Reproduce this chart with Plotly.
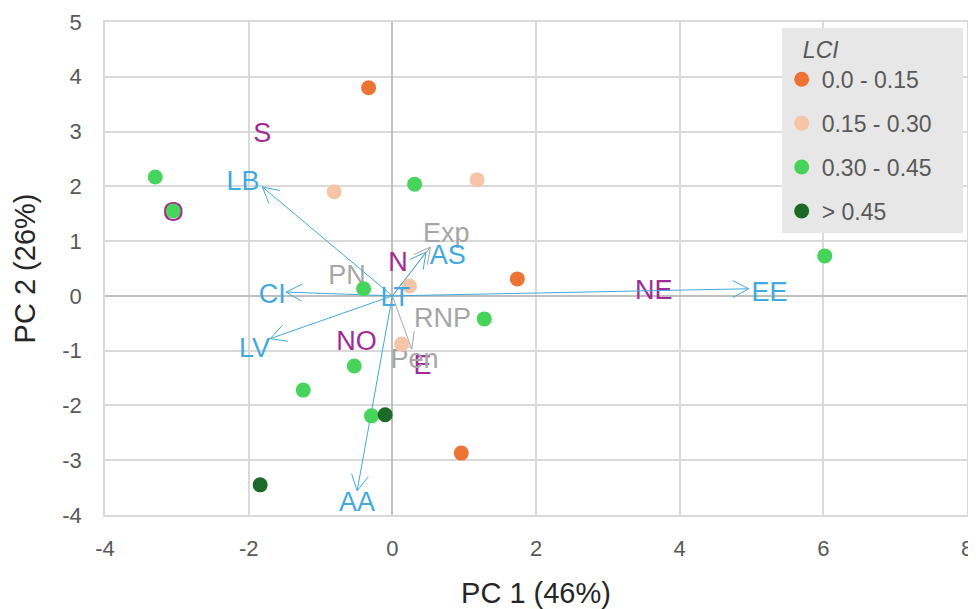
import math
import plotly.graph_objects as go

# ---- data ----
groups = ["0.0 - 0.15", "0.15 - 0.30", "0.30 - 0.45", "> 0.45"]
group_colors = ["#ed7332", "#f6c4a6", "#47d45a", "#1b6a27"]
pts_x = [
    [-0.33, 1.74, 0.96],
    [-0.81, 1.18, 0.24, 0.13],
    [-3.30, -3.05, 0.31, -0.40, 1.28, -0.53, -1.24, -0.29, 6.02],
    [-0.10, -1.84],
]
pts_y = [
    [3.80, 0.31, -2.87],
    [1.90, 2.12, 0.18, -0.88],
    [2.17, 1.55, 2.04, 0.13, -0.42, -1.28, -1.72, -2.19, 0.73],
    [-2.17, -3.45],
]

# loading vectors (blue)
blue_names = ["LB", "CI", "LV", "AA", "EE", "AS", "LT"]
blue_tip_x = [-1.81, -1.48, -1.70, -0.49, 4.96, 0.47, 0.0]
blue_tip_y = [1.99, 0.07, -0.78, -3.56, 0.13, 0.80, 0.0]
blue_lab_x = [-2.08, -1.67, -1.92, -0.49, 5.25, 0.77, 0.04]
blue_lab_y = [2.06, 0.00, -0.99, -3.80, 0.03, 0.71, -0.06]

# supplementary vectors (gray)
gray_names = ["Exp", "PN", "RNP", "Pen"]
gray_tip_x = [0.53, 0.0, 0.0, 0.27]
gray_tip_y = [0.89, 0.0, 0.0, -0.97]
gray_lab_x = [0.75, -0.63, 0.70, 0.31]
gray_lab_y = [1.11, 0.34, -0.44, -1.19]

# regions (purple)
reg_names = ["S", "O", "N", "NE", "NO", "E"]
reg_x = [-1.81, -3.05, 0.08, 3.64, -0.50, 0.42]
reg_y = [2.93, 1.49, 0.58, 0.07, -0.86, -1.30]

x_ticks = [-4, -2, 0, 2, 4, 6, 8]
y_ticks = [-4, -3, -2, -1, 0, 1, 2, 3, 4, 5]
X_RANGE = [-4, 8]
Y_RANGE = [-4, 5]

BLUE = "#41a9de"
GRAY = "#a6a6a6"
PURPLE = "#a02b93"
FONT = "Liberation Sans, Arial, sans-serif"
LBL = 27

# layout geometry (page body has an 8px margin)
W, H = 968, 601
ML, MR, MT, MB = 97, 9, 14, 94
KX = (W - ML - MR) / (X_RANGE[1] - X_RANGE[0])   # px per x unit
KY = (H - MT - MB) / (Y_RANGE[1] - Y_RANGE[0])   # px per y unit
HEAD_LEN = 18
HEAD_ANG = math.radians(28)


def arrow_xy(tips_x, tips_y):
    xs, ys = [], []
    for tx, ty in zip(tips_x, tips_y):
        if tx == 0 and ty == 0:
            continue
        xs += [0, tx, None]
        ys += [0, ty, None]
        dx, dy = tx * KX, ty * KY
        n = math.hypot(dx, dy)
        ux, uy = dx / n, dy / n
        for s in (1, -1):
            c, si = math.cos(s * HEAD_ANG), math.sin(s * HEAD_ANG)
            rx, ry = ux * c - uy * si, ux * si + uy * c
            xs += [tx, tx - HEAD_LEN * rx / KX, None]
            ys += [ty, ty - HEAD_LEN * ry / KY, None]
    return xs, ys


fig = go.Figure()

fig.add_trace(go.Scatter(x=reg_x, y=reg_y, mode="text", text=reg_names,
                         textfont=dict(color=PURPLE, size=LBL, family=FONT),
                         showlegend=False, hoverinfo="skip"))
fig.add_trace(go.Scatter(x=gray_lab_x, y=gray_lab_y, mode="text", text=gray_names,
                         textfont=dict(color=GRAY, size=LBL, family=FONT),
                         showlegend=False, hoverinfo="skip"))

gx, gy = arrow_xy(gray_tip_x, gray_tip_y)
fig.add_trace(go.Scatter(x=gx, y=gy, mode="lines", line=dict(color=GRAY, width=1),
                         showlegend=False, hoverinfo="skip"))
bx, by = arrow_xy(blue_tip_x, blue_tip_y)
fig.add_trace(go.Scatter(x=bx, y=by, mode="lines", line=dict(color=BLUE, width=1),
                         showlegend=False, hoverinfo="skip"))

for i, g in enumerate(groups):
    fig.add_trace(go.Scatter(x=pts_x[i], y=pts_y[i], mode="markers",
                             name=g + "\u00a0" * 4, legendgroup=g,
                             marker=dict(color=group_colors[i], size=15, line=dict(width=0))))

fig.add_trace(go.Scatter(x=blue_lab_x, y=blue_lab_y, mode="text", text=blue_names,
                         textfont=dict(color=BLUE, size=LBL, family=FONT),
                         showlegend=False, hoverinfo="skip"))

fig.update_layout(
    width=W, height=H,
    margin=dict(l=ML, r=MR, t=MT, b=MB, autoexpand=False),
    paper_bgcolor="white", plot_bgcolor="white",
    font=dict(family=FONT, color="#595959", size=22),
    legend=dict(
        title=dict(text="\u00a0\u00a0\u00a0<i>LCI</i>", font=dict(size=23, color="#595959")),
        font=dict(size=23, color="#595959"),
        bgcolor="#e7e7e7",
        x=0.785, xanchor="left", y=0.988, yanchor="top",
        tracegroupgap=11, itemwidth=30,
    ),
    xaxis=dict(range=X_RANGE, tickvals=x_ticks, ticktext=[str(v) for v in x_ticks],
               showgrid=True, gridcolor="#d9d9d9", gridwidth=1.5, automargin=False,
               zeroline=True, zerolinecolor="#bfbfbf", zerolinewidth=2,
               showline=True, linecolor="#d9d9d9", linewidth=1.5, mirror=True,
               ticks="outside", ticklen=13, tickcolor="rgba(0,0,0,0)",
               tickfont=dict(size=22, color="#595959"),
               title=dict(text="PC 1 (46%)", font=dict(size=29, color="#262626"), standoff=27)),
    yaxis=dict(range=Y_RANGE, tickvals=y_ticks, ticktext=[str(v) for v in y_ticks],
               showgrid=True, gridcolor="#d9d9d9", gridwidth=1.5, automargin=False,
               zeroline=True, zerolinecolor="#bfbfbf", zerolinewidth=2,
               showline=True, linecolor="#d9d9d9", linewidth=1.5, mirror=True,
               ticks="outside", ticklen=17, tickcolor="rgba(0,0,0,0)",
               tickfont=dict(size=22, color="#595959"),
               title=dict(text="PC 2 (26%)", font=dict(size=29, color="#262626"), standoff=18)),
)

fig.write_html("out.html")
